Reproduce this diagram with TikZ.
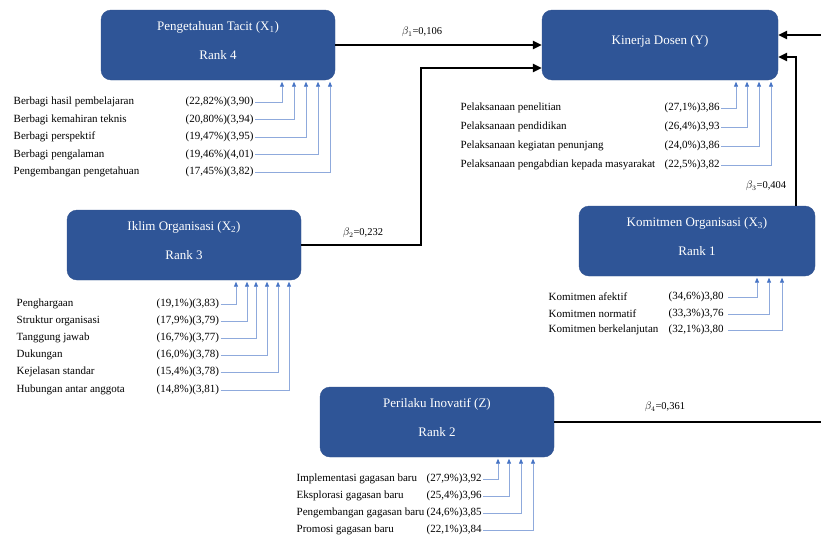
\documentclass[tikz,border=0pt]{standalone}
\usepackage{fontspec}
\setmainfont{Liberation Serif}
\usetikzlibrary{arrows.meta}
\definecolor{boxblue}{HTML}{2F5597}
\definecolor{boxedge}{HTML}{2F528F}
\definecolor{indblue}{HTML}{8FAADC}
\definecolor{indtip}{HTML}{4472C4}
\tikzset{
  varbox/.style={rectangle, rounded corners=10pt, fill=boxblue, draw=boxedge,
    minimum width=234pt, minimum height=70pt, text=white, align=center,
    font=\fontsize{13}{15}\selectfont, text depth=8.5pt},
  indtext/.style={anchor=west, inner sep=1.5pt, font=\fontsize{11}{13}\selectfont},
  indarrow/.style={draw=indblue, line width=0.8pt,
    -{Triangle[length=5pt,width=4pt,fill=indtip,color=indtip]}, shorten >=1.5pt},
  effect/.style={line width=2.6pt, -{Triangle[length=9pt,width=8pt]}},
  betalab/.style={font=\fontsize{10.5}{12}\selectfont, inner sep=1pt}
}
\begin{document}
\begin{tikzpicture}[x=1pt,y=-1pt]
\useasboundingbox (0,0) rectangle (821,538);
% variabel
\node[varbox] (tacit) at (218,45) {Pengetahuan Tacit (X\textsubscript{1})\\[14pt]Rank 4};
\node[varbox, text depth=10.5pt, minimum width=236pt] (kinerja) at (660,45) {Kinerja Dosen (Y)};
\node[varbox] (iklim) at (184,245) {Iklim Organisasi (X\textsubscript{2})\\[14pt]Rank 3};
\node[varbox, minimum width=236pt] (komitmen) at (697,241) {Komitmen Organisasi (X\textsubscript{3})\\[14pt]Rank 1};
\node[varbox] (perilaku) at (437,422) {Perilaku Inovatif (Z)\\[14pt]Rank 2};
% jalur
\coordinate (knee2) at (421,68);
\coordinate (knee3) at (796,57);
\coordinate (knee4) at (827,35);
\draw[effect] (tacit.east) -- (tacit.east -| kinerja.west);
\draw[effect] (iklim.east) -| (knee2) -- (knee2 -| kinerja.west);
\draw[effect] (knee3 |- komitmen.north) -- (knee3) -- (knee3 -| kinerja.east);
\draw[effect] (perilaku.east) -| (knee4) -- (knee4 -| kinerja.east);
\node[betalab] (b1) at (422,32) {$\beta_1$=0,106};
\node[betalab] (b2) at (363,233) {$\beta_2$=0,232};
\node[betalab] (b3) at (766,186) {$\beta_3$=0,404};
\node[betalab] (b4) at (665,407) {$\beta_4$=0,361};
% indikator X1
\foreach \nm/\val/\yy/\xx [count=\i] in {
  Berbagi hasil pembelajaran/{(22,82\%)(3,90)}/102/282,
  Berbagi kemahiran teknis/{(20,80\%)(3,94)}/119.5/294,
  Berbagi perspektif/{(19,47\%)(3,95)}/137/306,
  Berbagi pengalaman/{(19,46\%)(4,01)}/154.5/318,
  Pengembangan pengetahuan/{(17,45\%)(3,82)}/172/330}{
  \node[indtext] (tn\i) at (12,\yy) {\nm};
  \node[indtext] (tv\i) at (184,\yy) {\val};
  \draw[indarrow] (tv\i.east) -| (\xx,0 |- tacit.south);
}
% indikator Y
\foreach \nm/\val/\yy/\xx [count=\i] in {
  Pelaksanaan penelitian/{(27,1\%)3,86}/108/736,
  Pelaksanaan pendidikan/{(26,4\%)3,93}/127/747,
  Pelaksanaan kegiatan penunjang/{(24,0\%)3,86}/146/759,
  Pelaksanaan pengabdian kepada masyarakat/{(22,5\%)3,82}/165/771}{
  \node[indtext] (yn\i) at (459,\yy) {\nm};
  \node[indtext] (yv\i) at (663,\yy) {\val};
  \draw[indarrow] (yv\i.east) -| (\xx,0 |- kinerja.south);
}
% indikator X2
\foreach \nm/\val/\yy/\xx [count=\i] in {
  Penghargaan/{(19,1\%)(3,83)}/304/236,
  Struktur organisasi/{(17,9\%)(3,79)}/321/247,
  Tanggung jawab/{(16,7\%)(3,77)}/338/256,
  Dukungan/{(16,0\%)(3,78)}/355/267,
  Kejelasan standar/{(15,4\%)(3,78)}/372/278,
  Hubungan antar anggota/{(14,8\%)(3,81)}/390/289}{
  \node[indtext] (in\i) at (15,\yy) {\nm};
  \node[indtext] (iv\i) at (155,\yy) {\val};
  \draw[indarrow] (iv\i.east) -| (\xx,0 |- iklim.south);
}
% indikator X3
\foreach \nm/\val/\yy/\xx [count=\i] in {
  Komitmen afektif/{(34,6\%)3,80}/297/757,
  Komitmen normatif/{(33,3\%)3,76}/314/769,
  Komitmen berkelanjutan/{(32,1\%)3,80}/330/782}{
  \node[indtext] (kn\i) at (547,\yy) {\nm};
  \node[indtext] (kv\i) at (667,\yy) {\val};
  \draw[indarrow] ([xshift=3pt]kv\i.east) -| (\xx,0 |- komitmen.south);
}
% indikator Z
\foreach \nm/\val/\yy/\xx [count=\i] in {
  Implementasi gagasan baru/{(27,9\%)3,92}/479/498,
  Eksplorasi gagasan baru/{(25,4\%)3,96}/496/509,
  Pengembangan gagasan baru/{(24,6\%)3,85}/513/521,
  Promosi gagasan baru/{(22,1\%)3,84}/530/533}{
  \node[indtext] (zn\i) at (295,\yy) {\nm};
  \node[indtext] (zv\i) at (425,\yy) {\val};
  \draw[indarrow] (zv\i.east) -| (\xx,0 |- perilaku.south);
}
\end{tikzpicture}
\end{document}
